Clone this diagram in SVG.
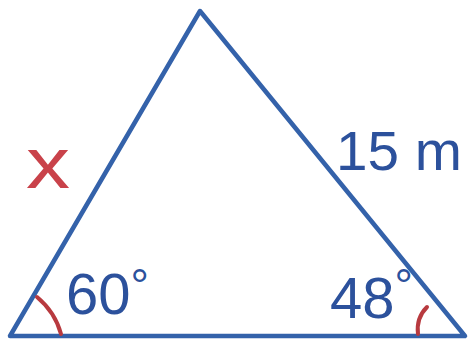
<svg xmlns="http://www.w3.org/2000/svg" width="473" height="344" viewBox="0 0 473 344">
<style>
.edge{fill:none;stroke:#3462aa;stroke-width:4.5;stroke-linecap:round;stroke-linejoin:round}
.arc{fill:none;stroke:#b83a3f;stroke-width:4;stroke-linecap:round}
.lbl{font-family:"Liberation Sans",Arial,sans-serif;fill:#2c519c}
.red{font-family:"Liberation Sans",Arial,sans-serif;fill:#c9424a}
</style>
<rect width="473" height="344" fill="#ffffff"/>
<g id="triangle">
<polygon class="edge" points="200,11 465,336 10,336"/>
</g>
<g id="angle-marks">
<path class="arc" d="M37,297 Q55,312 61,334"/>
<path class="arc" d="M427,307 Q416,318 418,334"/>
</g>
<g id="labels">
<text class="red" x="26" y="188" font-size="72" textLength="44" lengthAdjust="spacingAndGlyphs">x</text>
<text class="lbl" x="336" y="170" font-size="56" textLength="126" lengthAdjust="spacingAndGlyphs">15 m</text>
<text class="lbl" x="66" y="314" font-size="58">60<tspan font-size="46" dy="-12">°</tspan></text>
<text class="lbl" x="330" y="318" font-size="58">48<tspan font-size="46" dy="-16">°</tspan></text>
</g>
</svg>
